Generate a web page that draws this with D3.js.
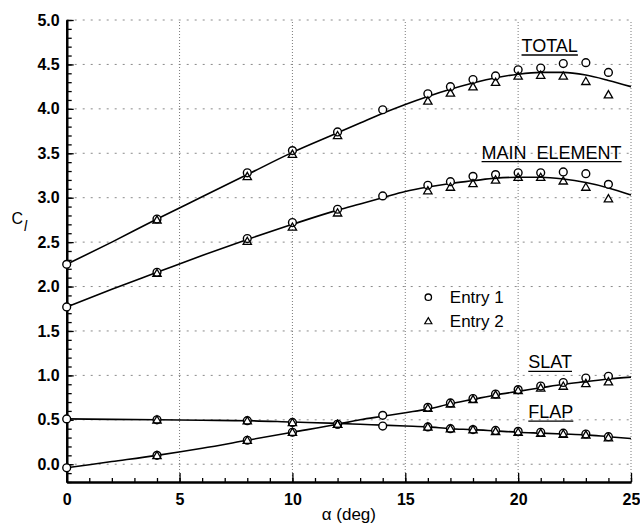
<!DOCTYPE html>
<html>
<head>
<meta charset="utf-8">
<script src="https://cdn.jsdelivr.net/npm/d3@7"></script>
<style>
  html, body { margin: 0; padding: 0; background: #fff; }
  svg { display: block; font-family: "Liberation Sans", Arial, Helvetica, sans-serif; }
</style>
</head>
<body>
<svg id="chart" width="640" height="526"></svg>
<script>
// Angle of attack (deg) at which each run was measured
const alphaEntry1 = [0, 4, 8, 10, 12, 14, 16, 17, 18, 19, 20, 21, 22, 23, 24];
const alphaEntry2 = [4, 8, 10, 12, 16, 17, 18, 19, 20, 21, 22, 23, 24];

// Entry 1 lift coefficients
const totalEntry1 = [2.25, 2.76, 3.28, 3.53, 3.74, 3.99, 4.17, 4.25, 4.33, 4.37, 4.44, 4.46, 4.51, 4.52, 4.41];
const mainEntry1  = [1.77, 2.16, 2.54, 2.72, 2.87, 3.02, 3.14, 3.18, 3.24, 3.26, 3.28, 3.28, 3.29, 3.27, 3.15];
const slatEntry1  = [-0.04, 0.10, 0.27, 0.36, 0.45, 0.55, 0.64, 0.69, 0.74, 0.79, 0.84, 0.88, 0.92, 0.97, 0.99];
const flapEntry1  = [0.51, 0.50, 0.49, 0.47, 0.45, 0.43, 0.42, 0.40, 0.39, 0.38, 0.37, 0.36, 0.35, 0.34, 0.31];

// Entry 2 lift coefficients
const totalEntry2 = [2.75, 3.24, 3.49, 3.70, 4.09, 4.18, 4.25, 4.30, 4.37, 4.38, 4.37, 4.31, 4.16];
const mainEntry2  = [2.15, 2.51, 2.67, 2.83, 3.08, 3.12, 3.16, 3.20, 3.23, 3.23, 3.19, 3.12, 2.99];
const slatEntry2  = [0.10, 0.27, 0.36, 0.45, 0.63, 0.68, 0.73, 0.78, 0.83, 0.86, 0.88, 0.91, 0.93];
const flapEntry2  = [0.50, 0.49, 0.47, 0.45, 0.42, 0.40, 0.39, 0.37, 0.36, 0.35, 0.34, 0.33, 0.30];

// Fitted curves
const alphaFit = [0, 2, 4, 6, 8, 10, 12, 13, 14, 15, 16, 17, 18, 19, 20, 21, 22, 23, 24, 25];
const totalFit = [2.25, 2.50, 2.76, 3.01, 3.26, 3.51, 3.73, 3.84, 3.95, 4.05, 4.14, 4.22, 4.29, 4.35, 4.39, 4.41, 4.41, 4.38, 4.32, 4.25];
const mainFit  = [1.77, 1.97, 2.16, 2.35, 2.53, 2.70, 2.86, 2.93, 3.00, 3.07, 3.12, 3.16, 3.19, 3.22, 3.23, 3.23, 3.21, 3.17, 3.11, 3.03];
const slatFit  = [-0.04, 0.03, 0.10, 0.18, 0.27, 0.36, 0.45, 0.50, 0.54, 0.58, 0.62, 0.68, 0.73, 0.78, 0.82, 0.86, 0.90, 0.93, 0.96, 0.98];
const flapFit  = [0.51, 0.505, 0.50, 0.495, 0.49, 0.475, 0.46, 0.45, 0.44, 0.43, 0.42, 0.40, 0.39, 0.375, 0.36, 0.35, 0.34, 0.33, 0.31, 0.29];

// Axis ticks
const yMajorTicks = [0, 0.5, 1, 1.5, 2, 2.5, 3, 3.5, 4, 4.5, 5];
const xMajorTicks = [0, 5, 10, 15, 20, 25];

// Curve labels: text, alpha and Cl of the label's left baseline
const curveLabels = ["TOTAL", "MAIN  ELEMENT", "SLAT", "FLAP"];
const labelAlpha  = [20.15, 18.38, 20.45, 20.45];
const labelCl     = [4.64, 3.44, 1.08, 0.52];

const legendNames = ["Entry 1", "Entry 2"];

const svg = d3.select("#chart");
const x = d3.scaleLinear().domain([0, 25]).range([66.7, 631]);
const y = d3.scaleLinear().domain([-0.2, 5]).range([482, 20]);

// Dotted grid
const grid = svg.append("g");
grid.selectAll("line.h").data(yMajorTicks).join("line")
  .attr("x1", x(0)).attr("x2", x(25))
  .attr("y1", d => y(d)).attr("y2", d => y(d))
  .attr("stroke", "#8a8a8a").attr("stroke-width", 1)
  .attr("stroke-dasharray", "2,6");
grid.selectAll("line.v").data(xMajorTicks.filter(d => d > 0)).join("line")
  .attr("x1", d => x(d)).attr("x2", d => x(d))
  .attr("y1", y(-0.2)).attr("y2", y(5))
  .attr("stroke", "#7a7a7a").attr("stroke-width", 1)
  .attr("stroke-dasharray", "1,2");

// Axes: minor ticks first, then labelled major ticks
const yMinor = d3.range(-2, 51).map(i => i / 10);
const xMinor = d3.range(0, 26);

const yMinorAxis = svg.append("g").attr("transform", `translate(${x(0)},0)`)
  .call(d3.axisLeft(y).tickValues(yMinor).tickSize(-5).tickSizeOuter(0).tickFormat(""));
const yMajorAxis = svg.append("g").attr("transform", `translate(${x(0)},0)`)
  .call(d3.axisLeft(y).tickValues(yMajorTicks).tickSize(-7).tickSizeOuter(0)
    .tickPadding(7).tickFormat(d3.format(".1f")));
const xMinorAxis = svg.append("g").attr("transform", `translate(0,${y(-0.2)})`)
  .call(d3.axisBottom(x).tickValues(xMinor).tickSize(-4).tickSizeOuter(0).tickFormat(""));
const xMajorAxis = svg.append("g").attr("transform", `translate(0,${y(-0.2)})`)
  .call(d3.axisBottom(x).tickValues(xMajorTicks).tickSize(-9).tickSizeOuter(0)
    .tickPadding(12).tickFormat(d3.format("d")));

[yMinorAxis, yMajorAxis, xMinorAxis, xMajorAxis].forEach(g => {
  g.select(".domain").attr("stroke", "#000").attr("stroke-width", 2.2);
  g.selectAll(".tick line").attr("stroke", "#000").attr("stroke-width", 1.3);
  g.selectAll(".tick text").attr("fill", "#000")
    .attr("font-size", 16).attr("font-weight", "bold")
    .attr("font-family", "'Liberation Sans', Arial, sans-serif");
});

// Fitted curves
const line = d3.line().x(d => x(d[0])).y(d => y(d[1])).curve(d3.curveMonotoneX);
[totalFit, mainFit, slatFit, flapFit].forEach(vals => {
  svg.append("path")
    .datum(alphaFit.map((a, i) => [a, vals[i]]))
    .attr("d", line)
    .attr("fill", "none").attr("stroke", "#000").attr("stroke-width", 1.6);
});

// Entry 1: open circles
const triPath = d3.symbol().type(d3.symbolTriangle).size(30);
[totalEntry1, mainEntry1, slatEntry1, flapEntry1].forEach(vals => {
  svg.append("g").selectAll("circle")
    .data(alphaEntry1.map((a, i) => [a, vals[i]]))
    .join("circle")
    .attr("cx", d => x(d[0])).attr("cy", d => y(d[1])).attr("r", 3.9)
    .attr("fill", "#fff").attr("stroke", "#000").attr("stroke-width", 1.4);
});

// Entry 2: open triangles
[totalEntry2, mainEntry2, slatEntry2, flapEntry2].forEach(vals => {
  svg.append("g").selectAll("path")
    .data(alphaEntry2.map((a, i) => [a, vals[i]]))
    .join("path")
    .attr("d", triPath)
    .attr("transform", d => `translate(${x(d[0])},${y(d[1]) + 0.8})`)
    .attr("fill", "none").attr("stroke", "#000").attr("stroke-width", 1.3);
});

// Curve labels with underlines
curveLabels.forEach((t, i) => {
  const tx = svg.append("text")
    .attr("x", x(labelAlpha[i])).attr("y", y(labelCl[i]))
    .attr("font-size", 18).attr("fill", "#000")
    .attr("xml:space", "preserve")
    .style("white-space", "pre")
    .text(t);
  const w = tx.node().getComputedTextLength();
  svg.append("line")
    .attr("x1", x(labelAlpha[i])).attr("x2", x(labelAlpha[i]) + w)
    .attr("y1", y(labelCl[i]) + 3).attr("y2", y(labelCl[i]) + 3)
    .attr("stroke", "#000").attr("stroke-width", 1.3);
});

// Legend
const legend = svg.append("g").attr("transform", `translate(${x(16.02)},${y(1.88)})`);
legend.append("circle").attr("cx", 0).attr("cy", 0).attr("r", 3.2)
  .attr("fill", "#fff").attr("stroke", "#000").attr("stroke-width", 1.3);
legend.append("path").attr("d", d3.symbol().type(d3.symbolTriangle).size(22))
  .attr("transform", "translate(0,24.5)")
  .attr("fill", "none").attr("stroke", "#000").attr("stroke-width", 1.2);
legend.selectAll("text").data(legendNames).join("text")
  .attr("x", 21.5).attr("y", (d, i) => 5.5 + i * 24.5)
  .attr("font-size", 17).attr("fill", "#000")
  .text(d => d);

// Axis titles
const yTitle = svg.append("text").attr("x", 11.5).attr("y", 224)
  .attr("font-size", 16).attr("fill", "#000");
yTitle.append("tspan").text("C");
yTitle.append("tspan").attr("dx", 1).attr("dy", 7)
  .attr("font-style", "italic").attr("font-size", 14).text("l");

svg.append("text").attr("x", x(12.5)).attr("y", 520)
  .attr("text-anchor", "middle").attr("font-size", 17).attr("fill", "#000")
  .text("α (deg)");
</script>
</body>
</html>
